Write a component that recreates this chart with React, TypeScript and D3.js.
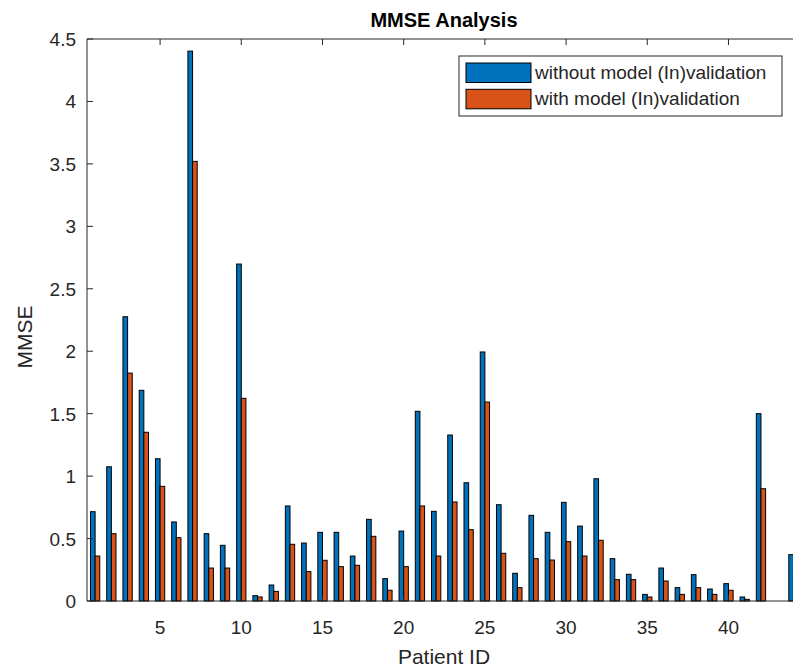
import React from 'react';
import * as d3 from 'd3';

// patient ids 1..44
const patients = d3.range(1, 45);

// MMSE without model (In)validation
const withoutModel = [
  0.715, 1.075, 2.276, 1.687, 1.139, 0.633, 4.403, 0.539, 0.446, 2.698,
  0.043, 0.128, 0.761, 0.464, 0.55, 0.55, 0.36, 0.654, 0.179, 0.56,
  1.519, 0.718, 1.329, 0.947, 1.994, 0.771, 0.222, 0.686, 0.55, 0.79,
  0.6, 0.979, 0.339, 0.214, 0.053, 0.264, 0.107, 0.211, 0.096, 0.139,
  0.032, 1.5, 0, 0.371,
];

// MMSE with model (In)validation
const withModel = [
  0.36, 0.539, 1.825, 1.351, 0.918, 0.507, 3.52, 0.264, 0.264, 1.623,
  0.032, 0.077, 0.454, 0.235, 0.326, 0.275, 0.286, 0.518, 0.086, 0.275,
  0.761, 0.36, 0.793, 0.571, 1.593, 0.382, 0.107, 0.339, 0.328, 0.475,
  0.36, 0.486, 0.171, 0.171, 0.032, 0.16, 0.053, 0.107, 0.053, 0.086,
  0.013, 0.899, 0, 0.227,
];

const xTicks = [5, 10, 15, 20, 25, 30, 35, 40];
const yTicks = [0, 0.5, 1, 1.5, 2, 2.5, 3, 3.5, 4, 4.5];

const seriesNames = ['without model (In)validation', 'with model (In)validation'];
const colors = ['#0072BD', '#D95319'];

const W = 793;
const H = 668;
const left = 87;
const top = 39;
const bottom = 601;
const unit = 16.24;

const axisColor = '#262626';
const font = '"Liberation Sans", Arial, sans-serif';

export default function App() {
  const x = d3.scaleLinear().domain([0.5, 44.5]).range([left, left + 44 * unit]);
  const y = d3.scaleLinear().domain([0, 4.5]).range([bottom, top]);
  const barW = 0.286;

  const series = [withoutModel, withModel];

  return (
    <svg
      width={W}
      height={H}
      style={{ position: 'absolute', left: 0, top: 0, background: '#fff' }}
      fontFamily={font}
    >
      <rect width={W} height={H} fill="#fff" />

      {/* bars */}
      {series.map((vals, s) => (
        <g key={s}>
          {patients.map((p, i) => {
            const v = vals[i];
            if (!v) return null;
            const x0 = s === 0 ? x(p - barW) : x(p);
            const x1 = s === 0 ? x(p) : x(p + barW);
            return (
              <rect
                key={p}
                x={x0}
                y={y(v)}
                width={x1 - x0}
                height={y(0) - y(v)}
                fill={colors[s]}
                stroke="#000"
                strokeWidth={1}
              />
            );
          })}
        </g>
      ))}

      {/* axes lines */}
      <line x1={left} x2={W} y1={bottom} y2={bottom} stroke={axisColor} strokeWidth={1} />
      <line x1={left} x2={W} y1={top} y2={top} stroke={axisColor} strokeWidth={1} />
      <line x1={left} x2={left} y1={top} y2={bottom} stroke={axisColor} strokeWidth={1} />

      {/* x ticks */}
      {xTicks.map((t) => (
        <g key={t}>
          <line x1={x(t)} x2={x(t)} y1={bottom} y2={bottom - 6} stroke={axisColor} />
          <line x1={x(t)} x2={x(t)} y1={top} y2={top + 6} stroke={axisColor} />
          <text x={x(t)} y={634} textAnchor="middle" fontSize={19} fill={axisColor}>
            {t}
          </text>
        </g>
      ))}

      {/* y ticks */}
      {yTicks.map((t) => (
        <g key={t}>
          <line x1={left} x2={left + 6} y1={y(t)} y2={y(t)} stroke={axisColor} />
          <text x={76} y={y(t) + 7} textAnchor="end" fontSize={19} fill={axisColor}>
            {t}
          </text>
        </g>
      ))}

      {/* labels */}
      <text x={444} y={26.5} textAnchor="middle" fontSize={20} fontWeight="bold" fill="#000">
        MMSE Analysis
      </text>
      <text x={444} y={664} textAnchor="middle" fontSize={21} fill={axisColor}>
        Patient ID
      </text>
      <text
        transform={`translate(32,337) rotate(-90)`}
        textAnchor="middle"
        fontSize={21}
        fill={axisColor}
      >
        MMSE
      </text>

      {/* legend */}
      <g>
        <rect x={459} y={56} width={323} height={60} fill="#fff" stroke={axisColor} strokeWidth={1} />
        {seriesNames.map((name, i) => (
          <g key={name}>
            <rect
              x={466}
              y={63 + i * 26.3}
              width={65}
              height={19.5}
              fill={colors[i]}
              stroke="#000"
              strokeWidth={1}
            />
            <text x={535} y={79 + i * 26.3} fontSize={19} fill={axisColor}>
              {name}
            </text>
          </g>
        ))}
      </g>
    </svg>
  );
}
